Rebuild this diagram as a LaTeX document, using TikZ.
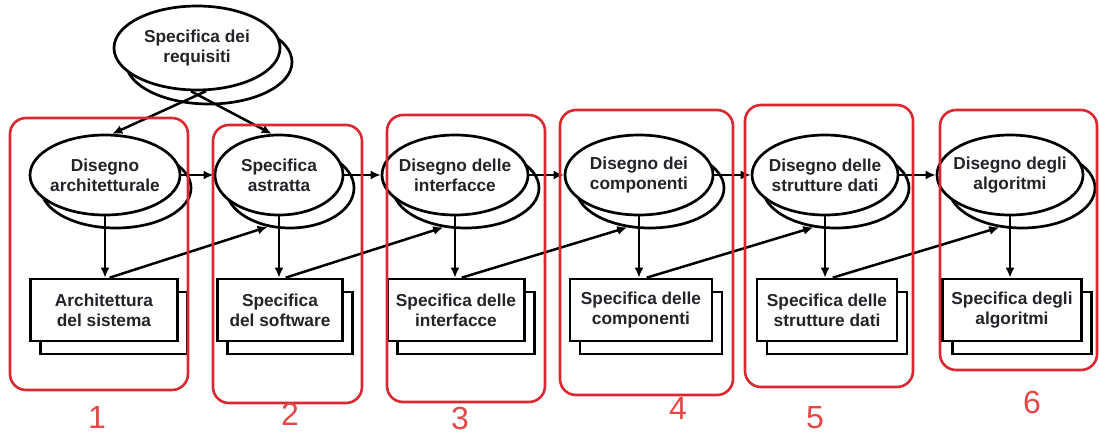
\documentclass[tikz,border=0pt]{standalone}
\usepackage{fontspec}
\setmainfont{Liberation Sans}
\usetikzlibrary{shapes.geometric,arrows.meta}
\definecolor{boxred}{RGB}{218,40,48}
\definecolor{numred}{RGB}{226,72,72}
\definecolor{ink}{RGB}{35,35,40}

\begin{document}
\begin{tikzpicture}[x=1pt,y=-1pt,
  ell/.style={ellipse, draw=black, line width=2.7pt, fill=white,
    inner xsep=-14pt, inner ysep=-8pt, minimum height=80pt,
    font=\bfseries\fontsize{17.3}{20}\selectfont, text=ink, align=center},
  doc/.style={rectangle, draw=black, line width=2.7pt, fill=white,
    inner sep=0pt, minimum height=62pt,
    font=\bfseries\fontsize{17.3}{20}\selectfont, text=ink, align=center},
  arr/.style={line width=2.5pt, -{Latex[length=10pt,width=9pt]}},
  group/.style={draw=boxred, line width=2.6pt, rounded corners=16pt, inner sep=0pt},
  num/.style={text=numred, font=\fontsize{32}{32}\selectfont, inner sep=0pt}
]
\fill[white] (0,0) rectangle (1099,436);
\useasboundingbox (0,0) rectangle (1099,436);

% back copies of the ellipses (offset shadows)
\node[ell, minimum width=166pt, minimum height=84pt] (Rs) at (209,62) {};
\node[ell, minimum width=150pt] (E1s) at (116,188) {};
\node[ell, minimum width=128pt] (E2s) at (290,188) {};
\node[ell, minimum width=146pt] (E3s) at (466,188) {};
\node[ell, minimum width=148pt] (E4s) at (650,188) {};
\node[ell, minimum width=146pt] (E5s) at (836,188) {};
\node[ell, minimum width=146pt] (E6s) at (1022,188) {};

% front ellipses
\node[ell, minimum width=166pt, minimum height=84pt] (R) at (197,48) {Specifica dei\\requisiti};
\node[ell, minimum width=150pt] (E1) at (105,175) {Disegno\\architetturale};
\node[ell, minimum width=128pt] (E2) at (279,175) {Specifica\\astratta};
\node[ell, minimum width=146pt] (E3) at (455,175) {Disegno delle\\interfacce};
\node[ell, minimum width=148pt] (E4) at (639,175) {Disegno dei\\componenti};
\node[ell, minimum width=146pt] (E5) at (825,175) {Disegno delle\\strutture dati};
\node[ell, minimum width=146pt] (E6) at (1010,175) {Disegno degli\\algoritmi};

% back copies of the documents
\node[doc, minimum width=147pt] (D1s) at (114,323) {};
\node[doc, minimum width=125pt] (D2s) at (290,323) {};
\node[doc, minimum width=137pt] (D3s) at (466,323) {};
\node[doc, minimum width=142pt] (D4s) at (651,323) {};
\node[doc, minimum width=140pt] (D5s) at (837,323) {};
\node[doc, minimum width=139pt] (D6s) at (1022,323) {};

% front documents
\node[doc, minimum width=147pt] (D1) at (104,310) {Architettura\\del sistema};
\node[doc, minimum width=125pt] (D2) at (280,310) {Specifica\\del software};
\node[doc, minimum width=137pt] (D3) at (456,310) {Specifica delle\\interfacce};
\node[doc, minimum width=142pt] (D4) at (641,310) {Specifica delle\\componenti};
\node[doc, minimum width=140pt] (D5) at (827,310) {Specifica delle\\strutture dati};
\node[doc, minimum width=139pt] (D6) at (1012,310) {Specifica degli\\algoritmi};

% requirements feed the first two activities
\draw[arr] (R.282) -- (E1.80);
\draw[arr] (R.262) -- (E2.100);

% chain of activities
\draw[arr] (E1.east) -- (E2.west);
\draw[arr] (E2.east) -- (E3.west);
\draw[arr] (E3.east) -- (E4.west);
\draw[arr] (E4.east) -- (E5.west);
\draw[arr] (E5.east) -- (E6.west);

% each activity produces its document
\draw[arr] (E1.south) -- (E1.south |- D1.north);
\draw[arr] (E2.south) -- (E2.south |- D2.north);
\draw[arr] (E3.south) -- (E3.south |- D3.north);
\draw[arr] (E4.south) -- (E4.south |- D4.north);
\draw[arr] (E5.south) -- (E5.south |- D5.north);
\draw[arr] (E6.south) -- (E6.south |- D6.north);

% each document feeds the next activity
\draw[arr] (D1.80) -- (E2s.240);
\draw[arr] (D2.80) -- (E3s.240);
\draw[arr] (D3.80) -- (E4s.240);
\draw[arr] (D4.80) -- (E5s.240);
\draw[arr] (D5.80) -- (E6s.240);

% phase groups
\node[group, minimum width=178pt, minimum height=272pt] (G1) at (99,254) {};
\node[group, minimum width=149pt, minimum height=278pt] (G2) at (287.5,264) {};
\node[group, minimum width=158pt, minimum height=287pt] (G3) at (466,258.5) {};
\node[group, minimum width=173pt, minimum height=285pt] (G4) at (646.5,252.5) {};
\node[group, minimum width=168pt, minimum height=282pt] (G5) at (829,246) {};
\node[group, minimum width=157pt, minimum height=260pt] (G6) at (1018.5,240) {};

% phase numbers
\node[num] (N1) at (97,417) {1};
\node[num] (N2) at (290,414) {2};
\node[num] (N3) at (460,418) {3};
\node[num] (N4) at (678,408) {4};
\node[num] (N5) at (815,418) {5};
\node[num] (N6) at (1032,402) {6};
\end{tikzpicture}
\end{document}
